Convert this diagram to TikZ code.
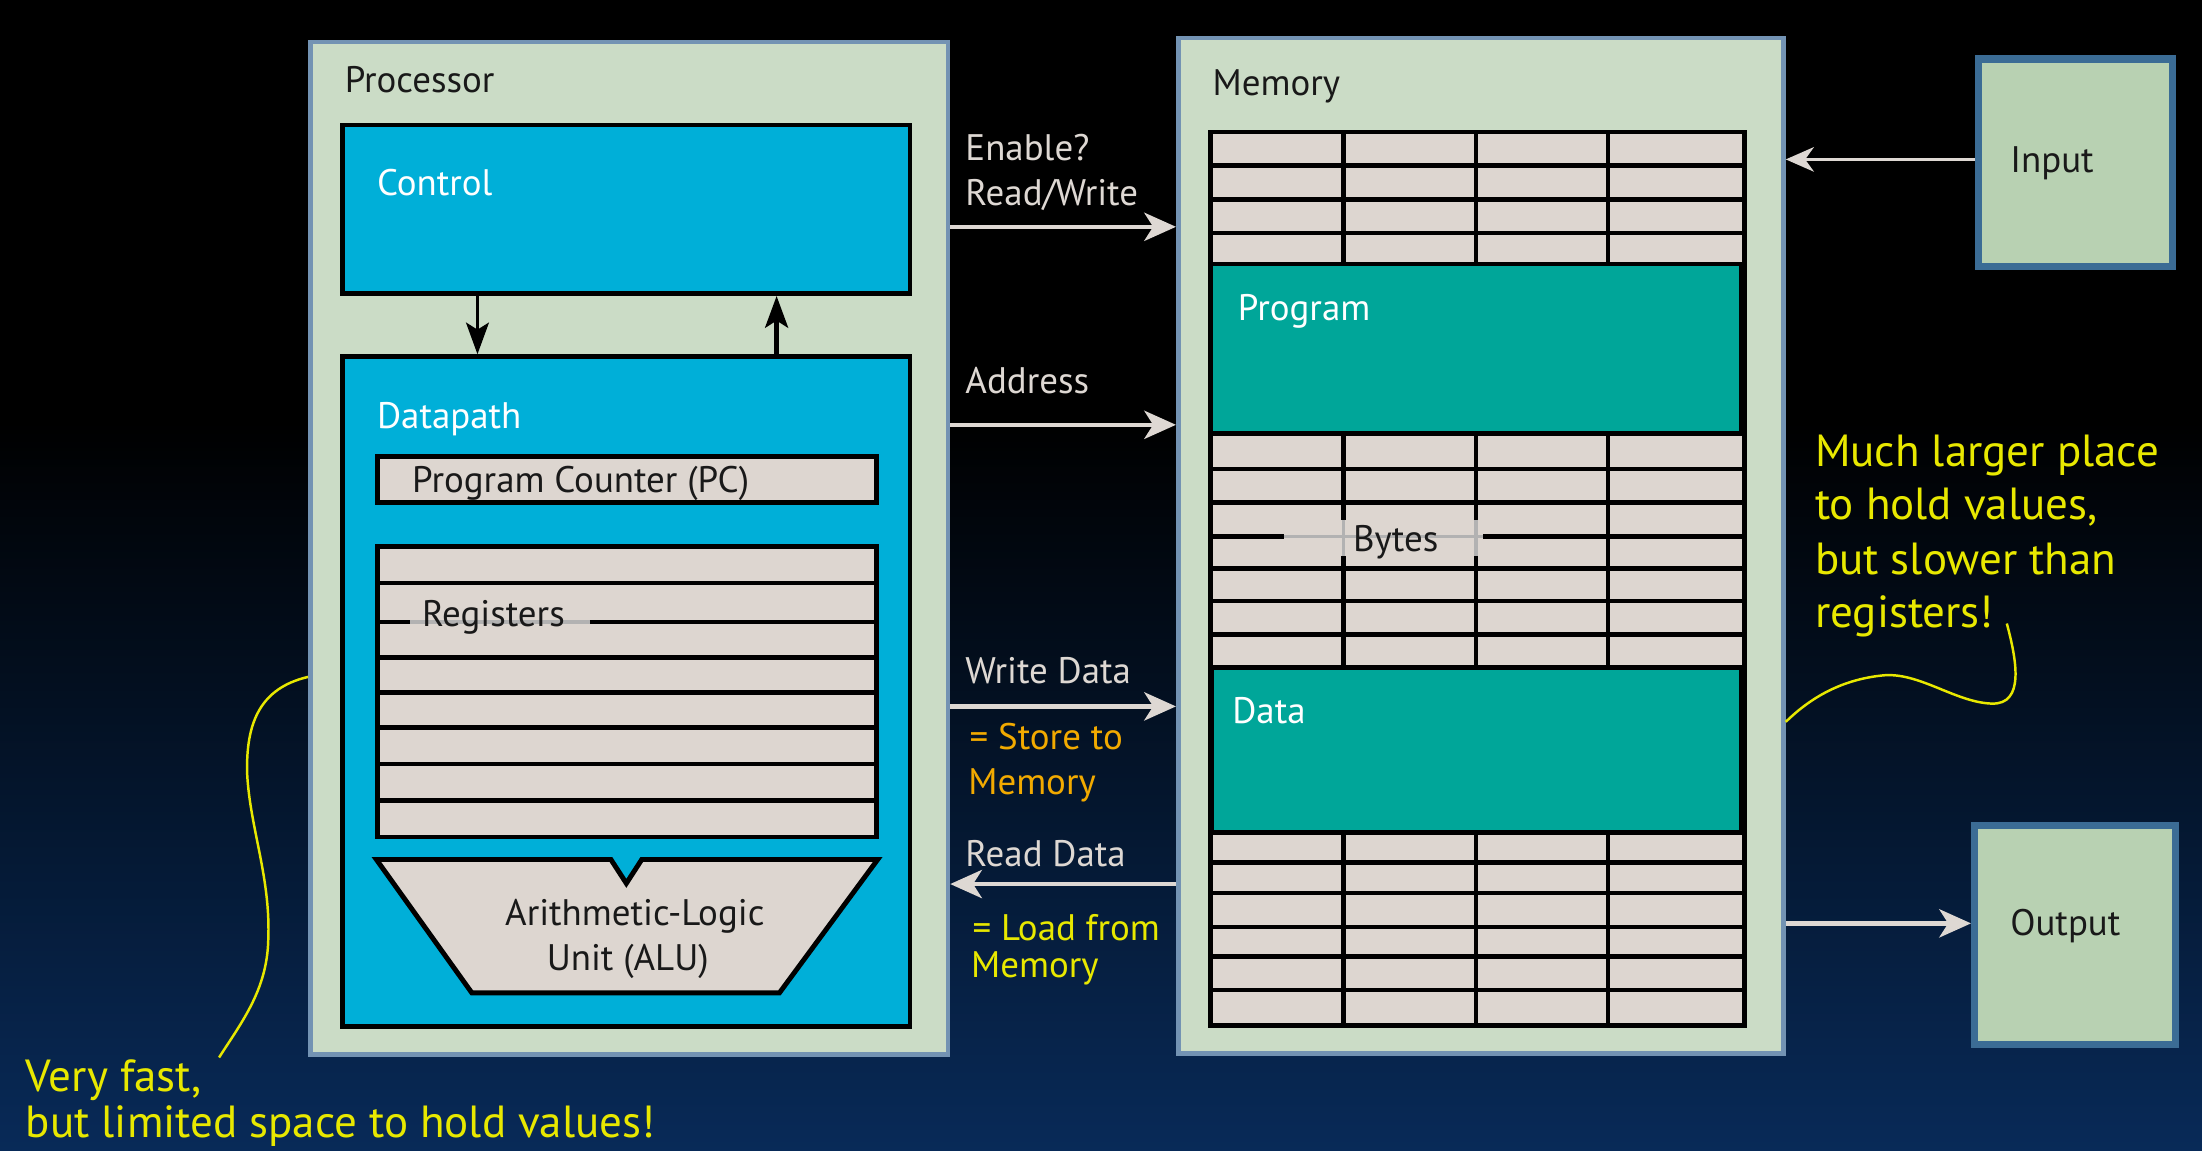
\documentclass[tikz,border=0pt]{standalone}
\usepackage{fontspec}
\setmainfont{PT Sans}
\usetikzlibrary{arrows.meta,fit}

\definecolor{procgreen}{RGB}{203,220,198}
\definecolor{frameblue}{RGB}{115,147,179}
\definecolor{iogreen}{RGB}{184,209,178}
\definecolor{ioblue}{RGB}{59,108,149}
\definecolor{cyanbox}{RGB}{0,175,216}
\definecolor{tealbox}{RGB}{0,166,153}
\definecolor{cellgray}{RGB}{221,214,208}
\definecolor{busgray}{RGB}{222,216,211}
\definecolor{noteyellow}{RGB}{232,232,0}
\definecolor{noteorange}{RGB}{242,170,0}
\definecolor{navy}{RGB}{8,42,88}
\definecolor{inktext}{RGB}{25,25,25}

\tikzset{
  outerbox/.style={draw=frameblue, line width=1.3pt, fill=procgreen, inner sep=0pt},
  iobox/.style={draw=ioblue, line width=2pt, fill=iogreen, inner sep=0pt},
  unitbox/.style={draw=black, line width=1.4pt, fill=cyanbox, inner sep=0pt},
  segbox/.style={draw=black, line width=1.4pt, fill=tealbox, inner sep=0pt},
  regbox/.style={draw=black, line width=1.4pt, fill=cellgray, inner sep=0pt},
  lbl/.style={anchor=base west, inner sep=0pt, text=inktext, font=\fontsize{10.5}{12}\selectfont},
  wlbl/.style={lbl, text=white},
  buslbl/.style={lbl, text=busgray},
  note/.style={lbl, text=noteyellow, font=\fontsize{12.8}{15}\selectfont},
  bus/.style={draw=busgray, line width=1.3pt, -{Stealth[length=9pt,width=8pt,inset=2.5pt]}},
  thinbus/.style={draw=busgray, line width=0.7pt, -{Stealth[length=8pt,width=7pt,inset=2.5pt]}},
  ctrlarrow/.style={draw=black, -{Stealth[length=9pt,width=6.5pt,inset=2pt]}},
  gridline/.style={draw=black, line width=1.3pt},
  gapline/.style={draw=gray!60, line width=1pt},
  curl/.style={draw=noteyellow, line width=0.7pt},
}

\begin{document}
\begin{tikzpicture}[x=0.014043cm, y=-0.014043cm]
    \useasboundingbox (0, 0) rectangle (1568, 819);
    \fill[black] (0, 0) rectangle (1568, 819);
    \shade[top color=black, bottom color=navy] (0, 300) rectangle (1568, 819);

    % processor side
    \node[outerbox, fit={(221, 30) (675, 751)}] (proc) {};
    \node[lbl] (proclbl) at (245, 66) {Processor};
    \node[unitbox, fit={(244, 89) (648, 209)}] (ctrl) {};
    \node[wlbl] (ctrllbl) at (268, 139) {Control};
    \node[unitbox, fit={(244, 254) (648, 731)}] (dp) {};
    \node[wlbl] (dplbl) at (268, 305) {Datapath};
        \coordinate (cdown) at (340, 0);
        \coordinate (cup) at (553, 0);
        \draw[ctrlarrow, line width=0.9pt] (ctrl.south -| cdown) -- (dp.north -| cdown);
        \draw[ctrlarrow, line width=1.4pt] (dp.north -| cup) -- (ctrl.south -| cup);

    \node[regbox, fit={(269, 325) (624, 358)}] (pc) {};
    \node[lbl] (pclbl) at (293, 351) {Program Counter (PC)};

    \node[regbox, fit={(269, 389) (624, 596)}] (regs) {};
        \foreach \ry in {415, 468, 493, 518, 544, 570}
            \draw[gridline] (269, \ry) to (624, \ry);
        \draw[gridline] (269, 443) to (292, 443);
        \draw[gapline] (292, 443) to (420, 443);
        \draw[gridline] (420, 443) to (624, 443);
    \node[lbl] (regslbl) at (300, 446) {Registers};

    \filldraw[fill=cellgray, draw=black, line width=1.4pt]
        (268, 612) -- (435, 612) -- (446, 629) -- (457, 612) -- (625, 612)
        -- (555, 707) -- (336, 707) -- cycle;
    \node[lbl, anchor=base] (alu1) at (452, 659) {Arithmetic-Logic};
    \node[lbl, anchor=base] (alu2) at (447, 691) {Unit (ALU)};

    % memory side
    \node[outerbox, fit={(839, 27) (1270, 750)}] (mem) {};
    \node[lbl] (memlbl) at (863, 68) {Memory};
    \node[regbox, fit={(862, 94) (1242, 730)}] (cells) {};
        \foreach \ry in {118, 142, 166}
            \draw[gridline] (862, \ry) to (1242, \ry);
        \foreach \cx in {956.5, 1051, 1145}
            \draw[gridline] (\cx, 94) to (\cx, 188);
        \foreach \ry in {334, 358, 405, 428, 452}
            \draw[gridline] (862, \ry) to (1242, \ry);
        \draw[gridline] (862, 382) to (914, 382);
        \draw[gapline] (914, 382) to (1056, 382);
        \draw[gridline] (1056, 382) to (1242, 382);
        \draw[gridline] (956.5, 309) to (956.5, 370);
        \draw[gridline] (956.5, 396) to (956.5, 475);
        \draw[gridline] (1051, 309) to (1051, 370);
        \draw[gridline] (1051, 396) to (1051, 475);
        \draw[gapline] (956.5, 370) to (956.5, 396);
        \draw[gapline] (1051, 370) to (1051, 396);
        \draw[gridline] (1145, 309) to (1145, 475);
        \foreach \ry in {614, 636, 660, 681, 705}
            \draw[gridline] (862, \ry) to (1242, \ry);
        \foreach \cx in {956.5, 1051, 1145}
            \draw[gridline] (\cx, 593) to (\cx, 730);
    \node[lbl] (byteslbl) at (963, 393) {Bytes};
    \node[segbox, fit={(862, 188) (1240, 309)}] (prog) {};
    \node[wlbl] (proglbl) at (881, 228) {Program};
    \node[segbox, fit={(863, 475) (1240, 593)}] (data) {};
    \node[wlbl] (datalbl) at (877, 515) {Data};

    % buses
    \coordinate (rwlvl) at (0, 161.5);
    \coordinate (addrlvl) at (0, 302.5);
    \coordinate (wrlvl) at (0, 503);
    \coordinate (rdlvl) at (0, 629.5);
    \draw[bus] (proc.east |- rwlvl) -- (mem.west |- rwlvl);
    \draw[bus] (proc.east |- addrlvl) -- (mem.west |- addrlvl);
    \draw[bus] (proc.east |- wrlvl) -- (mem.west |- wrlvl);
    \draw[bus] (mem.west |- rdlvl) -- (proc.east |- rdlvl);
    \node[buslbl] (enlbl) at (687, 114) {Enable?};
    \node[buslbl] (rwlbl) at (687, 146) {Read/Write};
    \node[buslbl] (addrlbl) at (687, 280) {Address};
    \node[buslbl] (wrlbl) at (687, 487) {Write Data};
    \node[lbl, text=noteorange] (st1) at (690, 534) {= Store to};
    \node[lbl, text=noteorange] (st2) at (689, 566) {Memory};
    \node[buslbl] (rdlbl) at (687, 617) {Read Data};
    \node[lbl, text=noteyellow] (ld1) at (692, 670) {= Load from};
    \node[lbl, text=noteyellow] (ld2) at (691, 696) {Memory};

    % input / output
    \node[iobox, fit={(1409, 42) (1547, 190)}] (inp) {};
    \node[lbl] (inplbl) at (1431, 123) {Input};
    \node[iobox, fit={(1406, 588) (1549, 744)}] (outp) {};
    \node[lbl] (outplbl) at (1431, 666) {Output};
    \coordinate (inlvl) at (0, 113.5);
    \coordinate (outlvl) at (0, 657.5);
    \draw[thinbus] (inp.west |- inlvl) -- (mem.east |- inlvl);
    \draw[bus] (mem.east |- outlvl) -- (outp.west |- outlvl);

    % notes
    \node[note] (fast1) at (18, 777) {Very fast,};
    \node[note] (fast2) at (18, 810) {but limited space to hold values!};
    \node[note] (big1) at (1292, 332) {Much larger place};
    \node[note] (big2) at (1292, 370) {to hold values,};
    \node[note] (big3) at (1292, 409) {but slower than};
    \node[note] (big4) at (1292, 447) {registers!};
    \coordinate (fastlvl) at (0, 482);
    \coordinate (biglvl) at (0, 514);
    \coordinate (fasttip) at (156, 753);
    \coordinate (bigtip) at (1429, 444);
    \draw[curl] (proc.west |- fastlvl) .. controls (185, 490) and (175, 515) .. (176, 551)
        .. controls (178, 590) and (193, 625) .. (191, 670)
        .. controls (190, 705) and (172, 728) .. (fasttip);
    \draw[curl] (bigtip) .. controls (1436, 470) and (1442, 502) .. (1418, 501)
        .. controls (1392, 500) and (1366, 478) .. (1340, 481)
        .. controls (1312, 484) and (1290, 496) .. (mem.east |- biglvl);
\end{tikzpicture}
\end{document}
